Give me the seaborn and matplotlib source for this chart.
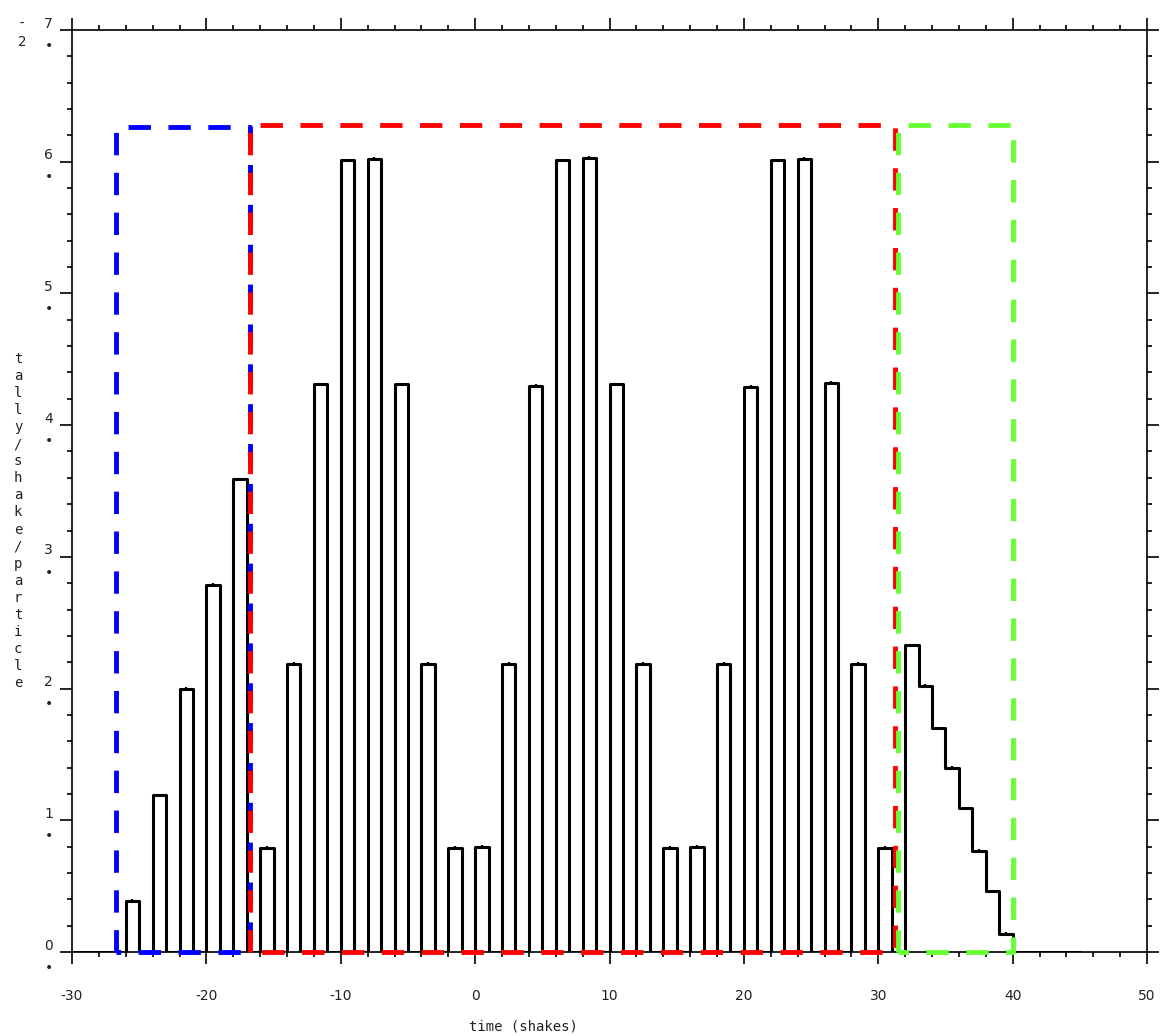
import numpy as np
import pandas as pd
import matplotlib
matplotlib.use("Agg")
import matplotlib.pyplot as plt
import matplotlib.transforms as mtransforms
from matplotlib.ticker import MultipleLocator
import seaborn as sns

# Time binning of the tally (shakes)
bin_lo = -30
bin_hi = 45

# Bins with a non-zero tally: bin start time and tally value
pulse_start = [-26, -24, -22, -20, -18, -16, -14, -12, -10, -8, -6, -4, -2,
               0, 2, 4, 6, 8, 10, 12, 14, 16, 18, 20, 22, 24, 26, 28, 30,
               32, 33, 34, 35, 36, 37, 38, 39]
pulse_tally = [0.39, 1.19, 2.00, 2.79, 3.59, 0.79, 2.19, 4.31, 6.01, 6.02, 4.31, 2.19, 0.79,
               0.80, 2.19, 4.30, 6.01, 6.03, 4.31, 2.19, 0.79, 0.80, 2.19, 4.29, 6.01, 6.02, 4.32, 2.19, 0.79,
               2.33, 2.02, 1.70, 1.40, 1.09, 0.77, 0.46, 0.14]
pulse_err = [0.012] * len(pulse_start)

# Time windows shown as dashed boxes
window_start = [-26.7, -16.75, 31.5]
window_end = [-16.75, 31.25, 40.05]
window_height = [6.26, 6.28, 6.28]
window_color = ["#0000ff", "#ff0000", "#66ff33"]

x_ticks = [-30, -20, -10, 0, 10, 20, 30, 40, 50]
y_ticks = [0, 1, 2, 3, 4, 5, 6, 7]

# Full histogram table (one row per 1-shake bin)
edges = np.arange(bin_lo, bin_hi + 1)
centers = edges[:-1] + 0.5
weights = np.zeros(len(centers))
for s, v in zip(pulse_start, pulse_tally):
    weights[s - bin_lo] = v
hist_df = pd.DataFrame({"time": centers, "tally": weights})

sns.set_style("ticks")
plt.rcParams["font.family"] = ["DejaVu Sans"]

fig = plt.figure(figsize=(11.66, 10.36), dpi=100)
ax = fig.add_axes([72 / 1166, 1 - 952 / 1036, (1147 - 72) / 1166, (952 - 30) / 1036])

sns.histplot(data=hist_df, x="time", weights="tally", binwidth=1,
             binrange=(bin_lo, bin_hi), element="step", fill=False,
             color="black", linewidth=2.2, ax=ax)

# small statistical error bars on each populated bin
ax.errorbar(np.array(pulse_start) + 0.5, pulse_tally, yerr=pulse_err,
            fmt="none", ecolor="black", elinewidth=1.6, capsize=0)

# dashed window boxes
for s, e, h, c in zip(window_start, window_end, window_height, window_color):
    ax.plot([s, s, e, e, s], [0, h, h, 0, 0], color=c, linewidth=3.5,
            linestyle=(0, (4.6, 3.6)), clip_on=False, zorder=3)

ax.set_xlim(-30, 50)
ax.set_ylim(0, 7)
ax.set_xlabel("")
ax.set_ylabel("")

ax.xaxis.set_major_locator(MultipleLocator(10))
ax.xaxis.set_minor_locator(MultipleLocator(2))
ax.yaxis.set_major_locator(MultipleLocator(1))
ax.yaxis.set_minor_locator(MultipleLocator(0.2))

for side in ["left", "right", "top", "bottom"]:
    ax.spines[side].set_visible(True)
    ax.spines[side].set_linewidth(1.2)
    ax.spines[side].set_color("black")

ax.tick_params(which="both", direction="out", top=True, right=True,
               labeltop=False, labelright=False, color="black", width=1.2)
ax.tick_params(which="major", length=8.6)
ax.tick_params(which="minor", length=3.8)
ax.tick_params(axis="x", which="major", pad=18, labelsize=10, labelcolor="#222222")
ax.tick_params(axis="y", which="major", pad=5, labelsize=10, labelcolor="#222222")

ax.set_xticks(x_ticks)
ax.set_xticklabels([str(v) for v in x_ticks])
ax.set_yticks(y_ticks)
ax.set_yticklabels([f"{v}\n\u2022" for v in y_ticks])
shift = mtransforms.ScaledTranslation(0, 1 / 100, fig.dpi_scale_trans)
for lbl in ax.get_yticklabels():
    lbl.set_multialignment("center")
    lbl.set_linespacing(1.75)
    lbl.set_transform(lbl.get_transform() + shift)

# axis titles
fig.text(523 / 1166, 1 - 1027 / 1036, "time (shakes)", family="DejaVu Sans Mono",
         fontsize=10, ha="center", va="center", color="#222222")
fig.text(18 / 1166, 1 - 521 / 1036, "\n".join("tally/shake/particle"),
         family="DejaVu Sans Mono", fontsize=10, ha="center", va="center",
         linespacing=1.28, color="#222222")
fig.text(22 / 1166, 1 - 33 / 1036, "-\n2", family="DejaVu Sans Mono",
         fontsize=10, ha="center", va="center", linespacing=1.35, color="#222222")

fig.savefig("out.png", dpi=100)
